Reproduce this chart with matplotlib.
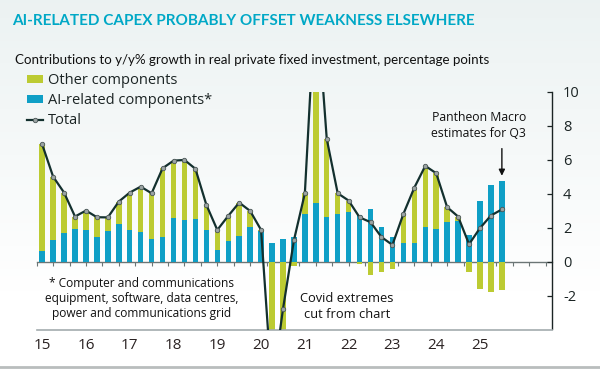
import numpy as np
import matplotlib
matplotlib.use("Agg")
import matplotlib.pyplot as plt
from matplotlib.patches import Patch
from matplotlib.lines import Line2D

# ---------------- data ----------------
quarters = list(range(43))  # 2015Q1 .. 2025Q3
ai_related = [0.65, 1.28, 1.70, 1.94, 1.85, 1.43, 1.77, 2.22, 1.86, 1.75, 1.30,
              1.45, 2.57, 2.45, 2.48, 1.85, 0.67, 1.22, 1.51, 2.02, 1.77,
              1.12, 1.32, 1.47, 2.79, 3.47, 2.65, 2.79, 2.94, 2.75, 3.10,
              2.06, 1.43, 1.12, 1.12, 2.06, 1.92, 2.32, 2.39, 1.59, 3.59,
              4.51, 4.73]
other = [6.25, 3.72, 2.36, 0.71, 1.15, 1.18, 0.83, 1.31, 2.20, 2.66, 2.72,
         4.04, 3.37, 3.53, 2.98, 1.49, 1.19, 1.47, 1.96, 0.96, 0.09,
         -8.60, -4.10, -0.25, 1.23, 12.50, 4.57, 1.23, 0.65, -0.15, -0.78,
         -0.62, -0.45, 1.68, 3.23, 3.57, 3.28, 0.88, 0.26, -0.59, -1.62,
         -1.80, -1.66]
total = [6.90, 5.00, 4.06, 2.65, 3.00, 2.61, 2.60, 3.53, 4.06, 4.41, 4.02,
         5.49, 5.94, 5.98, 5.46, 3.34, 1.86, 2.69, 3.47, 2.98, 1.86,
         -7.50, -2.80, 1.25, 4.02, 16.00, 7.22, 4.02, 3.59, 2.60, 2.32,
         1.44, 0.98, 2.80, 4.35, 5.63, 5.20, 3.20, 2.65, 1.02, 1.97,
         2.71, 3.07]
year_ticks = [0, 4, 8, 12, 16, 20, 24, 28, 32, 36, 40]
year_labels = ["15", "16", "17", "18", "19", "20", "21", "22", "23", "24", "25"]
y_ticks = [-2, 0, 2, 4, 6, 8, 10]

# ---------------- style ----------------
GREEN = "#bccb32"
BLUE = "#0f9fc6"
LINE = "#13302e"
TITLE = "#00a8c6"
TEXT = "#1b2424"
FONT = "Open Sans"
plt.rcParams["font.family"] = [FONT, "DejaVu Sans"]

fig = plt.figure(figsize=(6.0, 3.74), dpi=100)

# background gradient
bg = fig.add_axes([0, 0, 1, 1], zorder=-10)
grad = np.linspace(0, 1, 256).reshape(-1, 1)
top_c = np.array([0.925, 0.950, 0.950])
bot_c = np.array([1.0, 1.0, 1.0])
t = np.clip(grad / 0.78, 0, 1)
img = (top_c * (1 - t) + bot_c * t).reshape(256, 1, 3)
bg.imshow(img, aspect="auto", extent=[0, 1, 0, 1], origin="upper")
bg.set_xlim(0, 1)
bg.set_ylim(0, 1)
bg.axis("off")
bg.add_line(Line2D([0, 1], [1 - 367 / 374, 1 - 367 / 374], color="#b9bdbd", lw=2))

W, H = 600.0, 374.0
ax = fig.add_axes([36.7 / W, 1 - 329.5 / H, 515.2 / W, (329.5 - 91.7) / H])
ax.set_facecolor("none")

x = np.array(quarters)
ai = np.array(ai_related)
oth = np.array(other)
bottom = np.where(oth > 0, ai, 0)
ax.bar(x, ai, width=0.5, color=BLUE, zorder=2)
ax.bar(x, oth, width=0.5, bottom=bottom, color=GREEN, zorder=2)
ax.plot(x, total, color=LINE, lw=1.6, marker="o", ms=3.2, mfc="#9aa3a3",
        mec="#4a5656", mew=0.6, zorder=4)

ax.set_xlim(-0.5, 46.57)
ax.set_ylim(-4, 10)

for s in ["top", "left"]:
    ax.spines[s].set_visible(False)
ax.spines["right"].set_color(TEXT)
ax.spines["right"].set_linewidth(1.0)
ax.spines["bottom"].set_color("#a3acae")
ax.spines["bottom"].set_linewidth(1.2)

ax.yaxis.tick_right()
ax.set_yticks(y_ticks)
ax.set_yticklabels([str(v) for v in y_ticks])
ax.tick_params(axis="y", direction="in", length=3.5, width=0.9, color=TEXT,
               pad=8, labelsize=10.5, labelcolor=TEXT)
for lab in ax.get_yticklabels():
    lab.set_horizontalalignment("left")

ax.set_xticks(year_ticks)
ax.set_xticklabels(year_labels)
ax.tick_params(axis="x", length=0, pad=6, labelsize=11, labelcolor="#2a2222")

# zero line with small ticks
zero = ax.secondary_xaxis(4 / 14)
zero.spines["bottom"].set_color("#6b7575")
zero.spines["bottom"].set_linewidth(1.0)
zero.set_xticks(np.arange(-0.5, 46.6, 1.5))
zero.tick_params(axis="x", direction="out", length=3, width=0.8,
                 color="#6b7575", labelbottom=False)

# legend
handles = [Patch(facecolor=GREEN, edgecolor="none"),
           Patch(facecolor=BLUE, edgecolor="none"),
           Line2D([0], [0], color=LINE, lw=1.6, marker="o", ms=3.2,
                  mfc="#9aa3a3", mec="#4a5656", mew=0.6)]
fig.legend(handles, ["Other components", "AI-related components*", "Total"],
           loc="upper left", bbox_to_anchor=(27 / W, 1 - 73 / H), frameon=False,
           fontsize=10.5, handlelength=1.1, handleheight=0.45,
           handletextpad=0.35, labelspacing=0.36, borderpad=0,
           borderaxespad=0, labelcolor=TEXT)

# titles
fig.text(12.5 / W, 1 - 21 / H, "AI-RELATED CAPEX PROBABLY OFFSET WEAKNESS ELSEWHERE",
         color=TITLE, fontsize=11.0, fontweight="bold", va="center", ha="left",
         family=["Lato", "DejaVu Sans"])
fig.text(15 / W, 1 - 59.5 / H,
         "Contributions to y/y% growth in real private fixed investment, percentage points",
         color="#111111", fontsize=9.6, va="center", ha="left",
         family=["Lato", "DejaVu Sans"])

# annotations
ax.text(39.9, 8.0, "Pantheon Macro\nestimates for Q3", ha="center", va="center",
        fontsize=8.8, color="#111111", linespacing=1.25)
ax.annotate("", xy=(42, 5.05), xytext=(42, 6.65),
            arrowprops=dict(arrowstyle="-|>", color="#111111", lw=1.0,
                            mutation_scale=9, shrinkA=0, shrinkB=0))
ax.text(9.1, -2.2, "* Computer and communications\nequipment, software, data centres,\npower and communications grid",
        ha="center", va="center", fontsize=8.6, color="#111111", linespacing=1.2)
ax.text(27.85, -2.65, "Covid extremes\ncut from chart", ha="center", va="center",
        fontsize=9.3, color="#111111", linespacing=1.25)

fig.savefig("out.png", dpi=100)
